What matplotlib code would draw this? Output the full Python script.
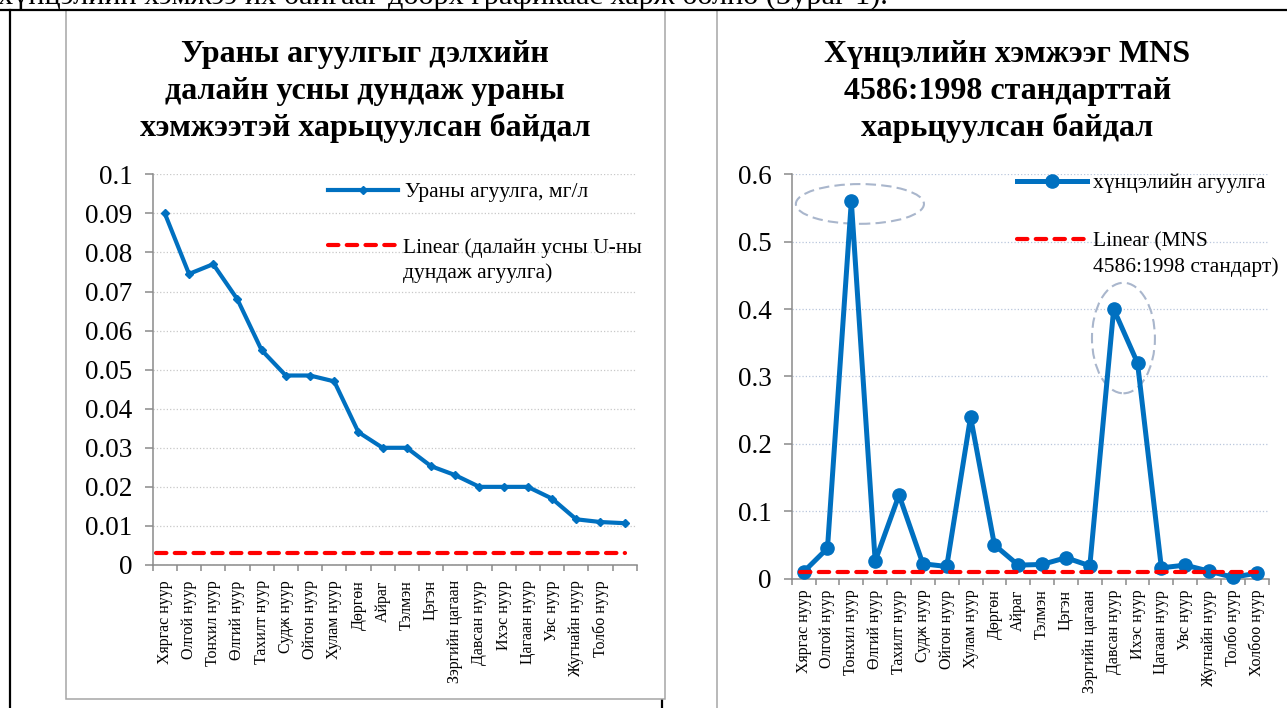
import numpy as np
import matplotlib
matplotlib.use('Agg')
import matplotlib.pyplot as plt
from matplotlib.lines import Line2D
from matplotlib.patches import Rectangle, Ellipse
from matplotlib.ticker import FixedLocator, FuncFormatter

plt.rcParams['font.family'] = ['Liberation Serif', 'DejaVu Serif']

# ---- data ----
u_lakes = ['Хяргас нуур', 'Олгой нуур', 'Тонхил нуур', 'Өлгий нуур', 'Тахилт нуур',
           'Судж нуур', 'Ойгон нуур', 'Хулам нуур', 'Дөргөн', 'Айраг', 'Тэлмэн',
           'Цэгэн', 'Зэргийн цагаан', 'Давсан нуур', 'Ихэс нуур', 'Цагаан нуур',
           'Увс нуур', 'Жугнайн нуур', 'Толбо нуур', '']
u_vals = [0.090, 0.0745, 0.077, 0.068, 0.055, 0.0485, 0.0485, 0.047, 0.034, 0.030,
          0.030, 0.0253, 0.023, 0.020, 0.020, 0.020, 0.017, 0.0117, 0.011, 0.0107]
u_sea = 0.003   # далайн усны дундаж

as_lakes = ['Хяргас нуур', 'Олгой нуур', 'Тонхил нуур', 'Өлгий нуур', 'Тахилт нуур',
            'Судж нуур', 'Ойгон нуур', 'Хулам нуур', 'Дөргөн', 'Айраг', 'Тэлмэн',
            'Цэгэн', 'Зэргийн цагаан', 'Давсан нуур', 'Ихэс нуур', 'Цагаан нуур',
            'Увс нуур', 'Жугнайн нуур', 'Толбо нуур', 'Холбоо нуур']
as_vals = [0.010, 0.045, 0.560, 0.026, 0.124, 0.022, 0.018, 0.240, 0.050, 0.020,
           0.021, 0.031, 0.019, 0.400, 0.320, 0.016, 0.020, 0.011, 0.002, 0.008]
as_std = 0.01   # MNS 4586:1998

u_ticks = np.round(np.arange(0, 0.1001, 0.01), 2)
as_ticks = np.round(np.arange(0, 0.601, 0.1), 1)

BLUE = '#0070C0'
RED = '#FF0000'
GRAY = '#8a8a8a'

W, H = 1287, 708
fig = plt.figure(figsize=(W / 100, H / 100), dpi=100)


def fx(x):
    return x / W


def fy(y):
    return 1 - y / H


# page / table borders
fig.add_artist(Line2D([fx(10.3), fx(10.3)], [fy(10), fy(712)], color='black', lw=1.6,
                      transform=fig.transFigure, zorder=-3))
fig.add_artist(Line2D([fx(661.7), fx(661.7)], [fy(10), fy(712)], color='black', lw=1.6,
                      transform=fig.transFigure, zorder=-3))
# chart frames
fig.add_artist(Rectangle((fx(65.7), fy(699)), fx(665) - fx(65.7), fy(10) - fy(699),
                         facecolor='white', edgecolor='#a6a6a6', lw=1.1,
                         transform=fig.transFigure, zorder=-2))
fig.add_artist(Rectangle((fx(717.3), fy(720)), fx(1300) - fx(717.3), fy(10) - fy(720),
                         facecolor='white', edgecolor='#a6a6a6', lw=1.1,
                         transform=fig.transFigure, zorder=-2))
fig.add_artist(Line2D([fx(0), fx(1287)], [fy(10), fy(10)], color='black', lw=1.6,
                      transform=fig.transFigure, zorder=5))
fig.text(fx(-2), fy(3.5), 'хүнцэлийн хэмжээ их байгааг доорх графикаас харж болно (Зураг 1).',
         fontsize=21.8, va='baseline', ha='left')


def style_axes(ax, labels, ticks, ylim, grid_color, grid_ls, xpad):
    n = len(labels)
    x = np.arange(n)
    ax.set_facecolor('none')
    ax.set_xlim(-0.5, n - 0.5)
    ax.set_ylim(*ylim)
    for s in ('top', 'right'):
        ax.spines[s].set_visible(False)
    for s in ('left', 'bottom'):
        ax.spines[s].set_color(GRAY)
        ax.spines[s].set_linewidth(1.1)
    ax.set_xticks(x)
    ax.set_xticklabels(labels, rotation=90, fontsize=11.5)
    ax.xaxis.set_minor_locator(FixedLocator(np.arange(n + 1) - 0.5))
    ax.tick_params(axis='x', which='major', length=0, pad=xpad)
    ax.tick_params(axis='x', which='minor', length=4.5, color=GRAY, width=1.1, direction='out')
    ax.set_yticks(ticks)
    ax.yaxis.set_major_formatter(FuncFormatter(lambda v, p: f'{v:g}'))
    ax.tick_params(axis='y', length=5.5, color=GRAY, width=1.1, labelsize=19.5, pad=9)
    ax.grid(axis='y', color=grid_color, ls=grid_ls, lw=0.9)
    ax.set_axisbelow(True)
    return x


# ---- left chart: uranium ----
ax1 = fig.add_axes([fx(152.7), fy(565), fx(636.7) - fx(152.7), fy(174.3) - fy(565)])
x1 = style_axes(ax1, u_lakes, u_ticks, (0, 0.1), '#c8c8c8', ':', 11)
ax1.plot(x1, u_vals, color=BLUE, lw=3, marker='D', ms=4.5, zorder=3)
ax1.plot([-0.35, x1[-1]], [u_sea, u_sea], color=RED, lw=3, dashes=(2.5, 2),
         dash_capstyle='round', zorder=3)

# ---- right chart: arsenic ----
ax2 = fig.add_axes([fx(791.7), fy(578.6), fx(1268.7) - fx(791.7), fy(174.3) - fy(578.6)])
x2 = style_axes(ax2, as_lakes, as_ticks, (0, 0.6), '#b9c6dc', ':', 8)
ax2.plot(x2, as_vals, color=BLUE, lw=3.6, marker='o', ms=9.5, zorder=3, clip_on=False)
ax2.plot([-0.15, x2[-1]], [as_std, as_std], color=RED, lw=3, dashes=(2.5, 2),
         dash_capstyle='round', zorder=4)
for (cx, cy, w, h) in [(2.36, 0.556, 5.37, 0.059), (13.41, 0.357, 2.64, 0.164)]:
    ax2.add_patch(Ellipse((cx, cy), w, h, fill=False, edgecolor='#a9b6cc', lw=1.5,
                          ls=(0, (5, 2.5)), zorder=2))

# ---- titles ----
left_title = ['Ураны агуулгыг дэлхийн', 'далайн усны дундаж ураны', 'хэмжээтэй харьцуулсан байдал']
right_title = ['Хүнцэлийн хэмжээг MNS', '4586:1998 стандарттай', 'харьцуулсан байдал']
for i, (lt, rt) in enumerate(zip(left_title, right_title)):
    fig.text(fx(365), fy(61.7 + 37 * i), lt, fontsize=23, fontweight='bold', ha='center', va='baseline')
    fig.text(fx(1007.5), fy(61.7 + 37 * i), rt, fontsize=23, fontweight='bold', ha='center', va='baseline')


# ---- legends (drawn by hand, Excel style) ----
def legend_entry(x0, x1_, y, style, text_lines, tx, tb):
    fig.add_artist(Line2D([fx(x0), fx((x0 + x1_) / 2), fx(x1_)], [fy(y)] * 3,
                          transform=fig.transFigure, **style))
    for k, t in enumerate(text_lines):
        fig.text(fx(tx), fy(tb + 25 * k), t, fontsize=15.5, ha='left', va='baseline')


legend_entry(327.7, 398.3, 190, dict(color=BLUE, lw=3, marker='D', ms=4.5, markevery=[1]),
             ['Ураны агуулга, мг/л'], 405, 197)
legend_entry(327.7, 398.3, 245, dict(color=RED, lw=3, dashes=(2.5, 2), dash_capstyle='round'),
             ['Linear (далайн усны U-ны', 'дундаж агуулга)'], 403, 253)
legend_entry(1016.7, 1086.7, 181, dict(color=BLUE, lw=3.6, marker='o', ms=9.5, markevery=[1]),
             ['хүнцэлийн агуулга'], 1093, 188)
legend_entry(1016.7, 1086.7, 239, dict(color=RED, lw=3, dashes=(2.5, 2), dash_capstyle='round'),
             ['Linear (MNS', '4586:1998 стандарт)'], 1093, 246.7)

fig.savefig('out.png', dpi=100)
